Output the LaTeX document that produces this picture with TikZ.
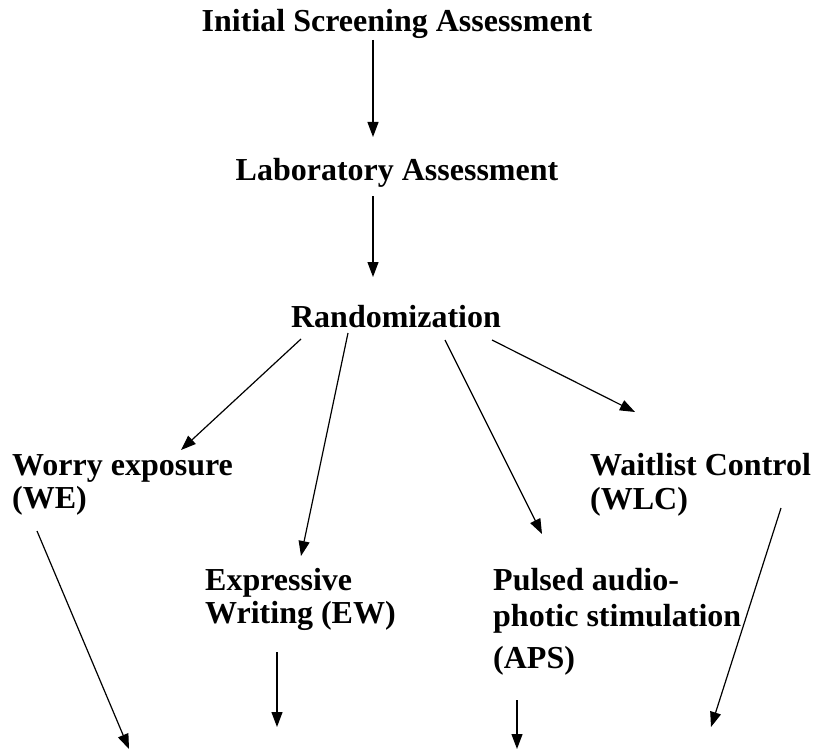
\documentclass[tikz,border=0pt]{standalone}
\usepackage{fontspec}
\setmainfont{Liberation Serif}
\usetikzlibrary{arrows.meta}
\begin{document}
\begin{tikzpicture}[x=1pt,y=-1pt,
  lbl/.style={font=\fontsize{32}{33}\selectfont\bfseries, inner sep=0pt, align=left},
  arr/.style={draw=black, line width=1.2pt, -{Triangle[length=15pt,width=11pt]}}]
\useasboundingbox (0,0) rectangle (814,749);
\fill[white] (0,0) rectangle (814,749);
\node[lbl, anchor=base] (init) at (397,32) {Initial Screening Assessment};
\node[lbl, anchor=base] (lab) at (397,180) {Laboratory Assessment};
\node[lbl, anchor=base] (rand) at (396,327) {Randomization};
% multi-line nodes: the base anchor is on the last line
\node[lbl, anchor=base west] (we) at (12,508) {Worry exposure\\(WE)};
\node[lbl, anchor=base west] (wlc) at (590,509) {Waitlist Control\\[1pt](WLC)};
\node[lbl, anchor=base west] (ew) at (205,623) {Expressive\\Writing (EW)};
\node[lbl, anchor=base west] (aps) at (493,668) {Pulsed audio-\\[3pt]photic stimulation\\[9pt](APS)};
% connector end points
\coordinate (i1) at (373,40);  \coordinate (l1) at (373,137);
\coordinate (l2) at (373,196); \coordinate (r0) at (373,277);
\coordinate (ra) at (301,339); \coordinate (wa) at (181,450);
\coordinate (rb) at (348,333); \coordinate (ea) at (301,556);
\coordinate (rc) at (445,340); \coordinate (pa) at (542,534);
\coordinate (rd) at (492,340); \coordinate (ca) at (635,412);
\coordinate (we1) at (37,531);  \coordinate (we2) at (129,749);
\coordinate (ew1) at (277,652); \coordinate (ew2) at (277,727);
\coordinate (ap1) at (517,700); \coordinate (ap2) at (517,749);
\coordinate (wl1) at (781,508); \coordinate (wl2) at (711,727);
\draw[arr] (i1) -- (l1);
\draw[arr] (l2) -- (r0);
\draw[arr] (ra) -- (wa);
\draw[arr] (rb) -- (ea);
\draw[arr] (rc) -- (pa);
\draw[arr] (rd) -- (ca);
\draw[arr] (we1) -- (we2);
\draw[arr] (ew1) -- (ew2);
\draw[arr] (ap1) -- (ap2);
\draw[arr] (wl1) -- (wl2);
\end{tikzpicture}
\end{document}
